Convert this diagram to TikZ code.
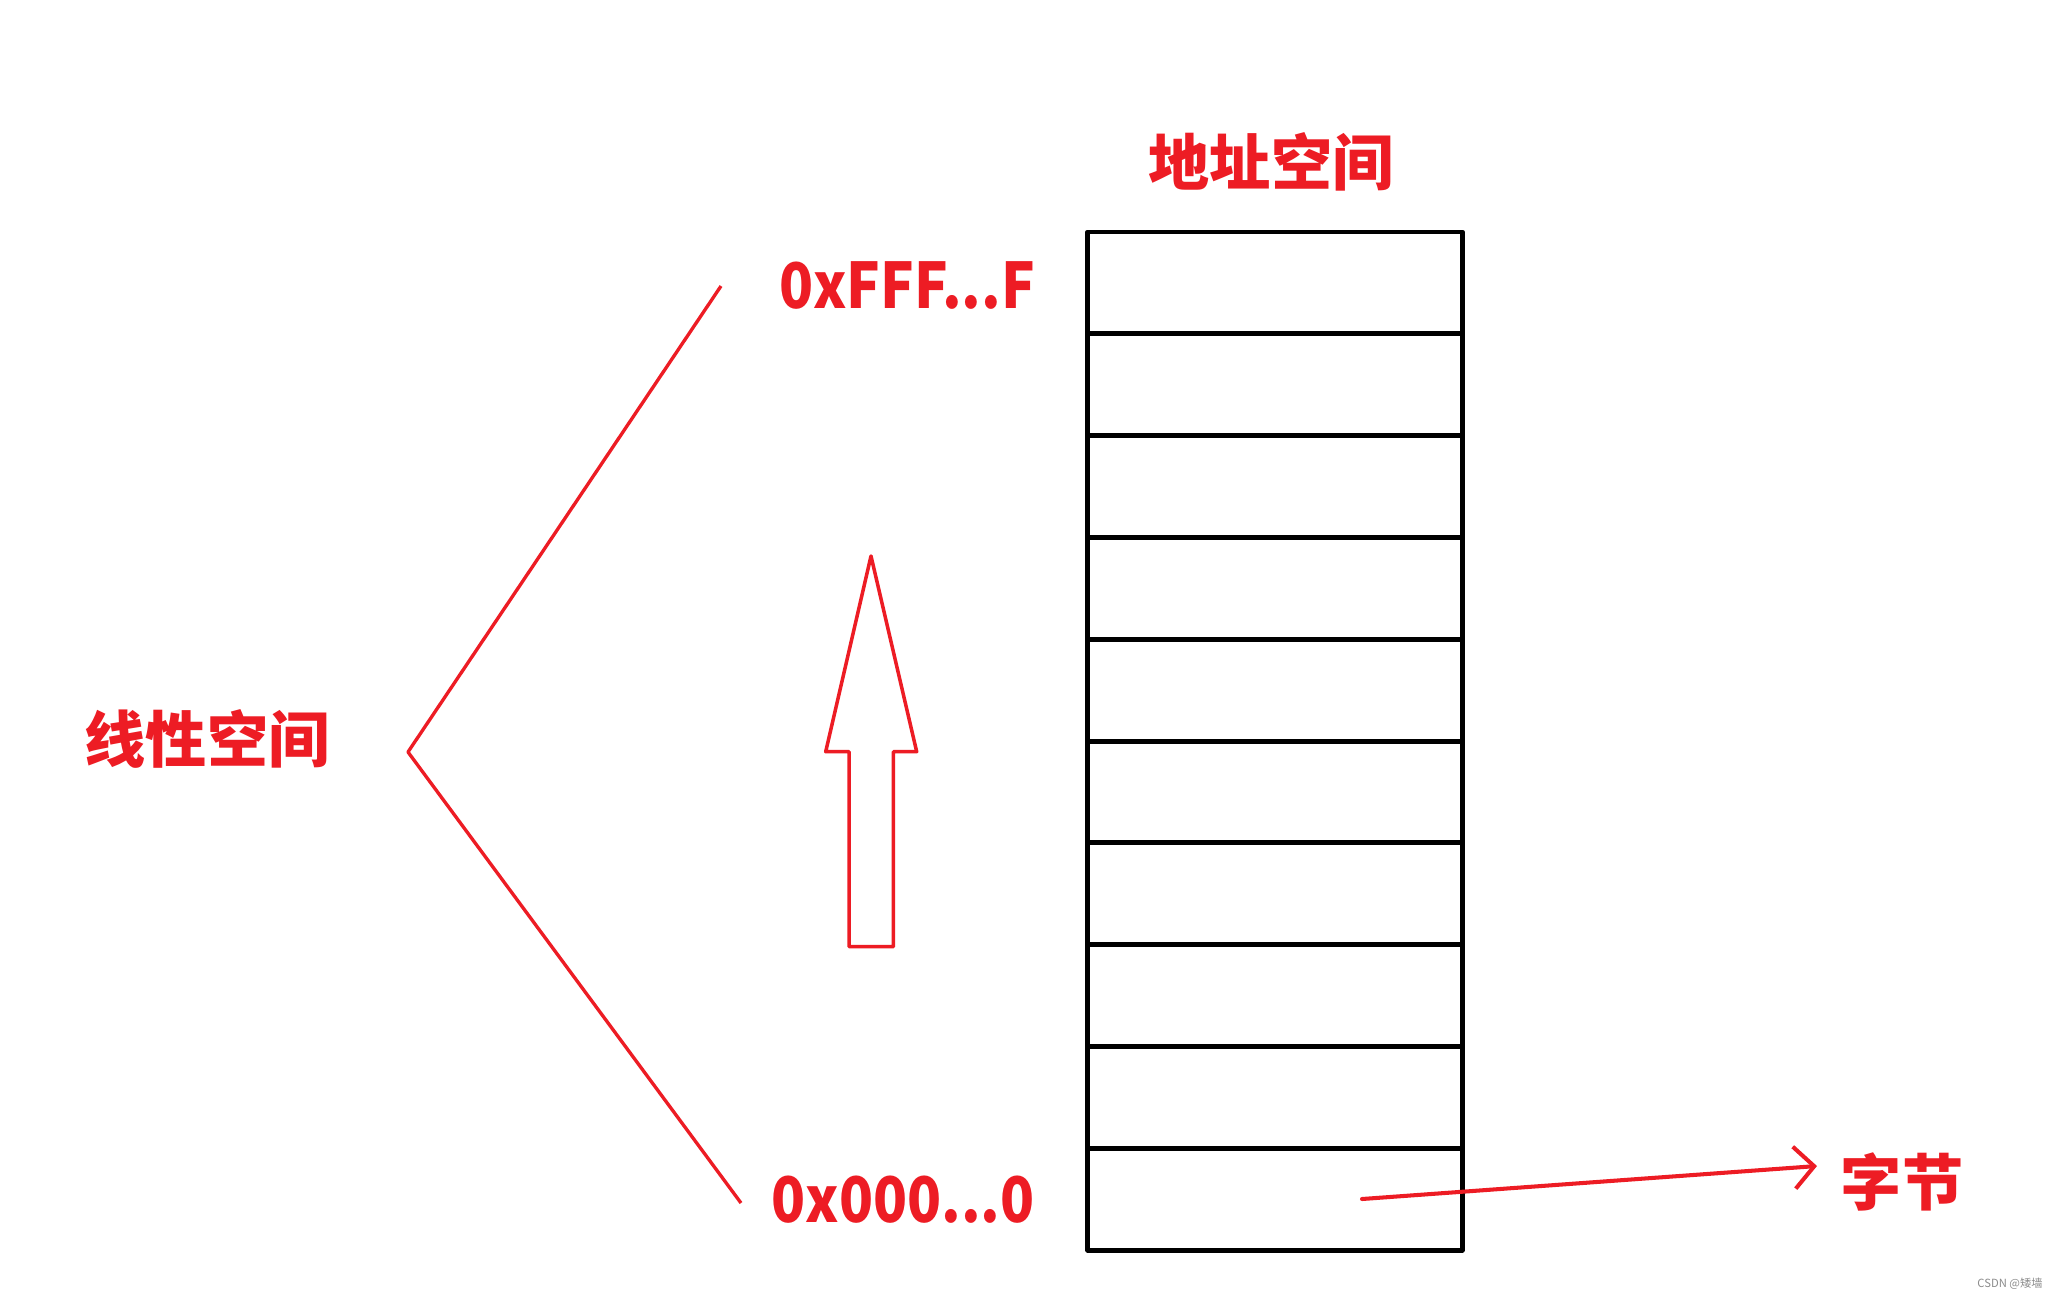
\documentclass[tikz,border=0pt]{standalone}
\usepackage{fontspec}
\setmainfont{Noto Sans CJK SC}
\newfontfamily\hexfont{Noto Sans CJK SC}[FakeStretch=0.89]
\usetikzlibrary{arrows.meta}
\definecolor{paintred}{RGB}{237,28,36}
\begin{document}
\begin{tikzpicture}[x=0.01cm, y=-0.01cm, line join=round,
  redtxt/.style={text=paintred, inner sep=0pt, font=\fontsize{17.4}{20}\selectfont\bfseries},
  hextxt/.style={text=paintred, inner sep=0pt, font=\hexfont\fontsize{17.9}{20}\selectfont\bfseries},
  redln/.style={draw=paintred, line width=0.95pt},
  cell/.style={draw, line width=1.4pt, minimum width=3.74cm, minimum height=1.018cm, inner sep=0pt}]
\useasboundingbox[fill=white] (0,0) rectangle (2063,1299);
% memory cells
\foreach \i in {0,...,9}
  \node[cell] (c\i) at (1275,{282.9+\i*101.8}) {};
\node[redtxt] (title) at (1271,162) {地址空间};
\node[hextxt] (hi) at (907,285) {0xFFF...F};
\node[hextxt] (lo) at (903,1200) {0x000...0};
\node[redtxt] (lin) at (207,739) {线性空间};
\node[redtxt] (byte) at (1902,1182) {字节};
% bracket of the linear space
\coordinate (V) at (408,752);
\coordinate (Vt) at (721,286);
\coordinate (Vb) at (741,1203);
\draw[redln] (Vt)--(V)--(Vb);
% hollow arrow
\draw[paintred, line width=1pt] (871,556)--(916.7,751.7)--(893.3,751.7)--(893.3,946.7)
  --(849,946.7)--(849,751.7)--(825.7,751.7)--cycle;
% byte pointer
\coordinate (b0) at (1362,1199);
\coordinate (b1) at (1817,1166);
\draw[redln, line width=1.15pt, line cap=round, -{Straight Barb[length=0.2cm, width=0.42cm, line width=1.15pt]}] (b0)--(b1);
\node[text=black!45, inner sep=0pt, font=\fontsize{3.2}{4}\selectfont] (wm) at (2010,1284) {CSDN @矮墙};
\end{tikzpicture}
\end{document}
